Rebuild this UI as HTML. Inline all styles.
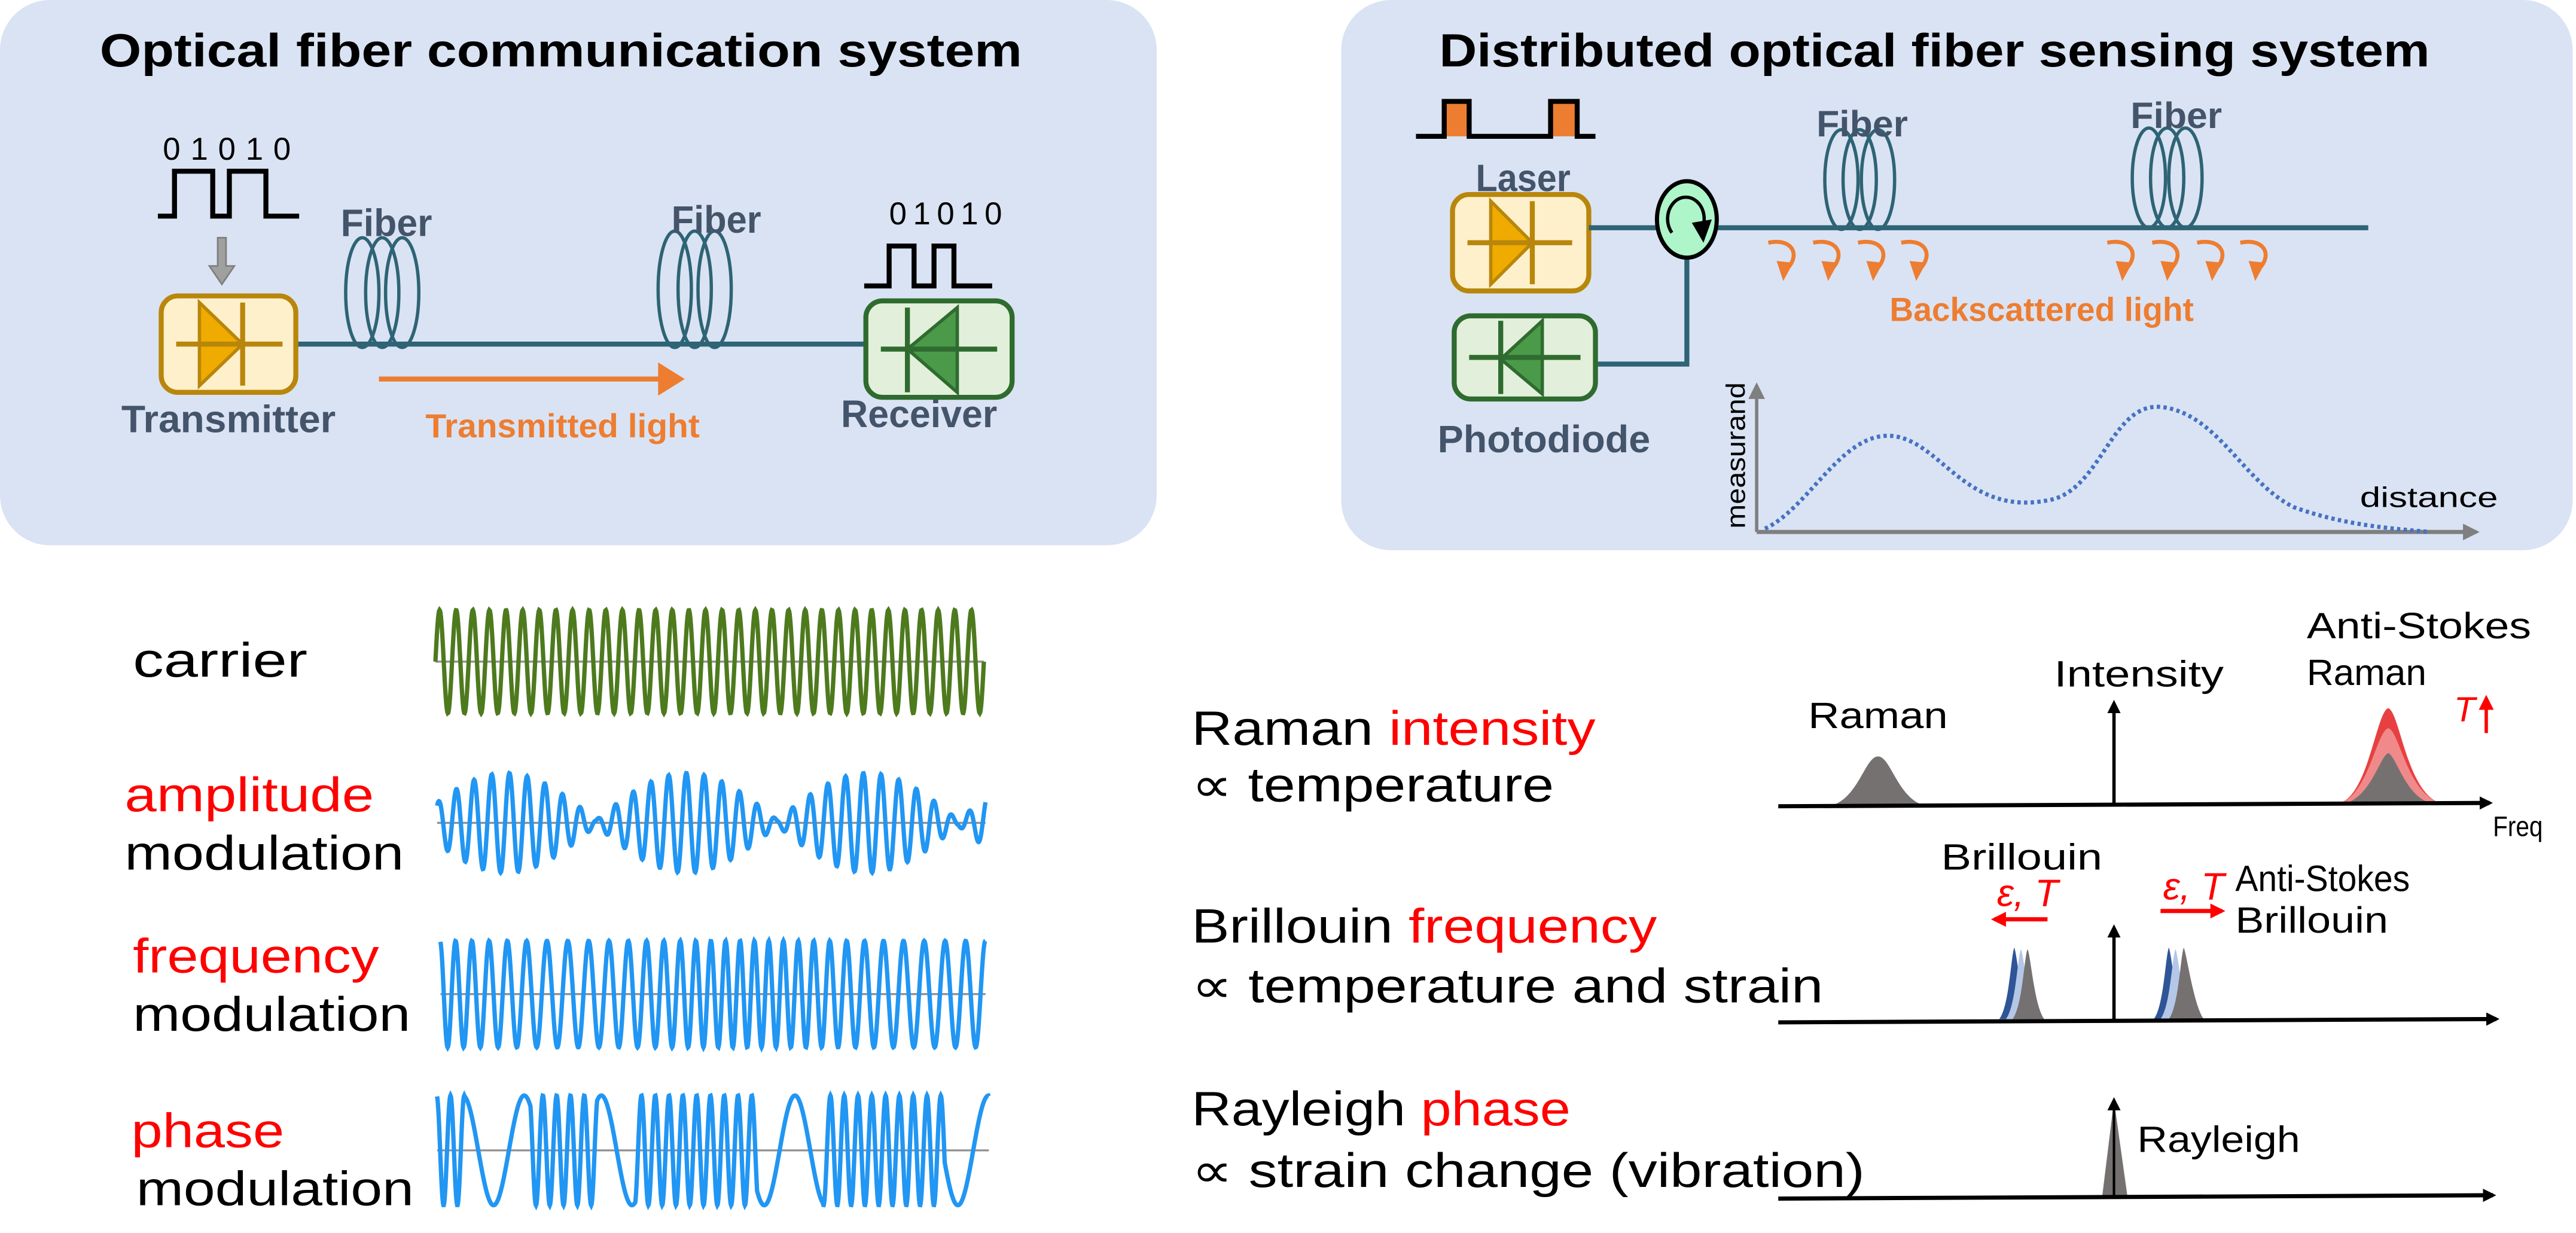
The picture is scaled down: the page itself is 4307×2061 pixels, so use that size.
<!DOCTYPE html>
<html><head><meta charset="utf-8"><style>
html,body{margin:0;padding:0;background:#fff}
svg{display:block}
text{font-family:"Liberation Sans","DejaVu Sans",sans-serif}
</style></head><body>
<svg id="s" width="4307" height="2061" viewBox="0 0 1550 741.7" xmlns="http://www.w3.org/2000/svg">
<defs>
<marker id="ab" markerWidth="8" markerHeight="8" refX="6" refY="4" orient="auto" markerUnits="userSpaceOnUse"><path d="M0,0 L8,4 L0,8 Z" fill="#000"/></marker>
<marker id="ag" markerWidth="10" markerHeight="10" refX="8" refY="5" orient="auto" markerUnits="userSpaceOnUse"><path d="M0,0 L10,5 L0,10 Z" fill="#7f7f7f"/></marker>
<marker id="ar" markerWidth="9" markerHeight="9" refX="7" refY="4.5" orient="auto" markerUnits="userSpaceOnUse"><path d="M0,0 L9,4.5 L0,9 Z" fill="#f00"/></marker>
</defs>
<!-- Left panel -->
<rect x="0" y="0" width="696" height="328" rx="30" fill="#dae3f3"/>
<text x="60" y="40" font-size="28" font-weight="bold" textLength="555" lengthAdjust="spacingAndGlyphs">Optical fiber communication system</text>
<text x="98" y="96" font-size="19" textLength="77" lengthAdjust="spacing">01010</text>
<path d="M95,130 H105 V103 H128 V130 H138 V103 H160 V130 H180" fill="none" stroke="#000" stroke-width="3"/>
<path d="M131,143 H136 V160 H141 L133.5,171 L126,160 H131 Z" fill="#a0a0a0" stroke="#7f7f7f" stroke-width="1"/>
<line x1="178" y1="207" x2="522" y2="207" stroke="#2e6475" stroke-width="3"/>
<g fill="none" stroke="#2e6475" stroke-width="2">
<ellipse cx="218" cy="176" rx="10" ry="33"/><ellipse cx="230" cy="176" rx="10" ry="33"/><ellipse cx="242" cy="176" rx="10" ry="33"/>
<ellipse cx="406" cy="174" rx="10" ry="35"/><ellipse cx="418" cy="174" rx="10" ry="35"/><ellipse cx="430" cy="174" rx="10" ry="35"/>
</g>
<text x="205" y="142" font-size="23" font-weight="bold" fill="#44546a" textLength="55" lengthAdjust="spacingAndGlyphs">Fiber</text>
<text x="404" y="140" font-size="23" font-weight="bold" fill="#44546a" textLength="54" lengthAdjust="spacingAndGlyphs">Fiber</text>
<rect x="97" y="178" width="81" height="58" rx="10" fill="#fff0cc" stroke="#b8860b" stroke-width="3"/>
<path d="M120,182 L146,207 L120,232 Z" fill="#f0ab00" stroke="#b8860b" stroke-width="2"/>
<line x1="146" y1="182" x2="146" y2="232" stroke="#b8860b" stroke-width="3"/>
<line x1="106" y1="207" x2="170" y2="207" stroke="#b8860b" stroke-width="3"/>
<rect x="521" y="181" width="88" height="58" rx="10" fill="#e2efda" stroke="#2f6b2f" stroke-width="3"/>
<path d="M576,185 L546,210 L576,236 Z" fill="#4a9a4a" stroke="#2f6b2f" stroke-width="2"/>
<line x1="546" y1="185" x2="546" y2="236" stroke="#2f6b2f" stroke-width="3"/>
<line x1="530" y1="210" x2="600" y2="210" stroke="#2f6b2f" stroke-width="3"/>
<text x="535" y="135" font-size="19" textLength="68" lengthAdjust="spacing">01010</text>
<path d="M520,172 H535 V148 H550 V172 H562 V148 H574 V172 H597" fill="none" stroke="#000" stroke-width="3"/>
<line x1="228" y1="228" x2="398" y2="228" stroke="#ed7d31" stroke-width="3"/>
<path d="M396,218 L412,228 L396,238 Z" fill="#ed7d31"/>
<text x="73" y="260" font-size="23" font-weight="bold" fill="#44546a" textLength="129" lengthAdjust="spacingAndGlyphs">Transmitter</text>
<text x="256" y="263" font-size="20" font-weight="bold" fill="#ed7d31" textLength="165" lengthAdjust="spacingAndGlyphs">Transmitted light</text>
<text x="506" y="257" font-size="23" font-weight="bold" fill="#44546a" textLength="94" lengthAdjust="spacingAndGlyphs">Receiver</text>

<!-- Right panel -->
<rect x="807" y="0" width="741" height="331" rx="30" fill="#dae3f3"/>
<text x="866" y="40" font-size="28" font-weight="bold" textLength="596" lengthAdjust="spacingAndGlyphs">Distributed optical fiber sensing system</text>
<rect x="869" y="62" width="15" height="20" fill="#ed7d31"/><rect x="933" y="62" width="16" height="20" fill="#ed7d31"/>
<path d="M852,82 H869 V61 H884 V82 H933 V61 H949 V82 H960" fill="none" stroke="#000" stroke-width="3"/>
<text x="888" y="115" font-size="23" font-weight="bold" fill="#44546a" textLength="57" lengthAdjust="spacingAndGlyphs">Laser</text>
<rect x="874" y="117" width="82" height="58" rx="10" fill="#fff0cc" stroke="#b8860b" stroke-width="3"/>
<path d="M897,121 L922,146 L897,171 Z" fill="#f0ab00" stroke="#b8860b" stroke-width="2"/>
<line x1="922" y1="121" x2="922" y2="171" stroke="#b8860b" stroke-width="3"/>
<line x1="883" y1="146" x2="946" y2="146" stroke="#b8860b" stroke-width="3"/>
<line x1="956" y1="137" x2="1425" y2="137" stroke="#2e6475" stroke-width="3"/>
<polyline points="1015,155 1015,219 960,219" fill="none" stroke="#2e6475" stroke-width="3"/>
<ellipse cx="1015" cy="132" rx="18" ry="23" fill="#aef5c9" stroke="#000" stroke-width="2.5"/>
<path d="M1006,140 A11,13 0 1 1 1024,138" fill="none" stroke="#000" stroke-width="2"/>
<path d="M1018,134 L1030,132 L1025,146 Z" fill="#000"/>
<rect x="875" y="190" width="85" height="50" rx="10" fill="#e2efda" stroke="#2f6b2f" stroke-width="3"/>
<path d="M928,193 L903,216 L928,237 Z" fill="#4a9a4a" stroke="#2f6b2f" stroke-width="2"/>
<line x1="903" y1="193" x2="903" y2="237" stroke="#2f6b2f" stroke-width="3"/>
<line x1="884" y1="215" x2="951" y2="215" stroke="#2f6b2f" stroke-width="3"/>
<text x="865" y="272" font-size="23" font-weight="bold" fill="#44546a" textLength="128" lengthAdjust="spacingAndGlyphs">Photodiode</text>
<g fill="none" stroke="#2e6475" stroke-width="2">
<ellipse cx="1108" cy="108" rx="10" ry="30"/><ellipse cx="1119" cy="108" rx="10" ry="30"/><ellipse cx="1130" cy="108" rx="10" ry="30"/>
<ellipse cx="1293" cy="107" rx="10" ry="30"/><ellipse cx="1304" cy="107" rx="10" ry="30"/><ellipse cx="1315" cy="107" rx="10" ry="30"/>
</g>
<text x="1093" y="82" font-size="22" font-weight="bold" fill="#44546a" textLength="55" lengthAdjust="spacingAndGlyphs">Fiber</text>
<text x="1282" y="77" font-size="22" font-weight="bold" fill="#44546a" textLength="55" lengthAdjust="spacingAndGlyphs">Fiber</text>
<g id="curl" fill="none" stroke="#ed7d31" stroke-width="2.4">
</g>
<text x="1137" y="193" font-size="20" font-weight="bold" fill="#ed7d31" textLength="183" lengthAdjust="spacingAndGlyphs">Backscattered light</text>
<line x1="1057" y1="320" x2="1057" y2="232" stroke="#7f7f7f" stroke-width="2" marker-end="url(#ag)"/>
<line x1="1057" y1="320" x2="1490" y2="320" stroke="#7f7f7f" stroke-width="2.5" marker-end="url(#ag)"/>
<text transform="translate(1050,274) rotate(-90)" font-size="16" text-anchor="middle" textLength="88" lengthAdjust="spacingAndGlyphs">measurand</text>
<text x="1420" y="305" font-size="17" textLength="83" lengthAdjust="spacingAndGlyphs">distance</text>
<path d="M1062,318 C1090,305 1110,255 1143,263 C1170,270 1185,310 1232,301 C1265,296 1270,240 1302,245 C1335,250 1350,290 1380,305 C1410,316 1440,318 1462,320" fill="none" stroke="#4472c4" stroke-width="2.5" stroke-dasharray="2,2"/>

<!-- Bottom left -->
<g font-size="29">
<text x="80" y="407" textLength="105" lengthAdjust="spacingAndGlyphs">carrier</text>
<text x="75" y="488" fill="#f00" textLength="150" lengthAdjust="spacingAndGlyphs">amplitude</text>
<text x="75" y="523" textLength="168" lengthAdjust="spacingAndGlyphs">modulation</text>
<text x="80" y="585" fill="#f00" textLength="148" lengthAdjust="spacingAndGlyphs">frequency</text>
<text x="80" y="620" textLength="167" lengthAdjust="spacingAndGlyphs">modulation</text>
<text x="79" y="690" fill="#f00" textLength="92" lengthAdjust="spacingAndGlyphs">phase</text>
<text x="82" y="725" textLength="167" lengthAdjust="spacingAndGlyphs">modulation</text>
</g>
<g stroke="#909090" stroke-width="1.2">
<line x1="262" y1="398" x2="592" y2="398"/><line x1="263" y1="495" x2="593" y2="495"/>
<line x1="265" y1="598" x2="593" y2="598"/><line x1="263" y1="692" x2="595" y2="692"/>
</g>
<g id="waves" fill="none" stroke-width="2.6"></g>

<!-- Bottom right -->
<g font-size="29">
<text x="717" y="448" textLength="243" lengthAdjust="spacingAndGlyphs">Raman <tspan fill="#f00">intensity</tspan></text>
<text x="717" y="482" textLength="218" lengthAdjust="spacingAndGlyphs">∝ temperature</text>
<text x="717" y="567" textLength="280" lengthAdjust="spacingAndGlyphs">Brillouin <tspan fill="#f00">frequency</tspan></text>
<text x="717" y="603" textLength="380" lengthAdjust="spacingAndGlyphs">∝ temperature and strain</text>
<text x="717" y="677" textLength="228" lengthAdjust="spacingAndGlyphs">Rayleigh <tspan fill="#f00">phase</tspan></text>
<text x="717" y="714" textLength="405" lengthAdjust="spacingAndGlyphs">∝ strain change (vibration)</text>
</g>
<!-- Raman axis -->
<path d="M1100,485 C1118,482 1122,455 1130,455 C1138,455 1142,482 1160,485 Z" fill="#767171"/>
<path d="M1408,483 C1425,478 1430,428 1437,426 C1444,428 1448,476 1468,483 Z" fill="#e84040"/>
<path d="M1408,483 C1425,478 1430,440 1437,438 C1444,440 1448,476 1468,483 Z" fill="#f08a8a"/>
<path d="M1412,483 C1427,478 1432,455 1437,453 C1442,455 1447,478 1462,483 Z" fill="#767171"/>
<line x1="1070" y1="485" x2="1498" y2="483" stroke="#000" stroke-width="2.5" marker-end="url(#ab)"/>
<line x1="1272" y1="485" x2="1272" y2="423" stroke="#000" stroke-width="2" marker-end="url(#ab)"/>
<text x="1088" y="438" font-size="22" textLength="84" lengthAdjust="spacingAndGlyphs">Raman</text>
<text x="1236" y="413" font-size="22" textLength="102" lengthAdjust="spacingAndGlyphs">Intensity</text>
<text x="1388" y="384" font-size="22" textLength="135" lengthAdjust="spacingAndGlyphs">Anti-Stokes</text>
<text x="1388" y="412" font-size="22" textLength="72" lengthAdjust="spacingAndGlyphs">Raman</text>
<text x="1483" y="434" font-size="21" fill="#f00" font-style="italic" font-family="Liberation Serif,serif" text-anchor="middle">T</text>
<line x1="1496" y1="441" x2="1496" y2="420" stroke="#f00" stroke-width="2" marker-end="url(#ar)"/>
<text x="1500" y="503" font-size="17" textLength="30" lengthAdjust="spacingAndGlyphs">Freq</text>
<!-- Brillouin -->
<path d="M1203,613 C1209,605 1210,575 1212,570 C1214,575 1216,605 1222,613 Z" fill="#2f5597"/>
<path d="M1207,613 C1213,605 1214,575 1216,571 C1218,575 1220,605 1226,613 Z" fill="#b4c7e7"/>
<path d="M1211,613 C1217,605 1218,575 1220,571 C1222,575 1224,605 1230,613 Z" fill="#767171"/>
<path d="M1296,613 C1302,605 1303,575 1305,570 C1307,575 1309,605 1315,613 Z" fill="#2f5597"/>
<path d="M1300,613 C1306,605 1307,575 1309,571 C1311,575 1313,605 1319,613 Z" fill="#b4c7e7"/>
<path d="M1305,613 C1311,605 1312,575 1314,570 C1316,575 1320,605 1326,613 Z" fill="#767171"/>
<line x1="1070" y1="615" x2="1502" y2="613" stroke="#000" stroke-width="2.5" marker-end="url(#ab)"/>
<line x1="1272" y1="613" x2="1272" y2="558" stroke="#000" stroke-width="2" marker-end="url(#ab)"/>
<text x="1168" y="523" font-size="22" textLength="97" lengthAdjust="spacingAndGlyphs">Brillouin</text>
<text x="1220" y="545" font-size="23" fill="#f00" font-style="italic" font-family="Liberation Serif,serif" text-anchor="middle">ε, T</text>
<line x1="1232" y1="553" x2="1200" y2="553" stroke="#f00" stroke-width="2.5" marker-end="url(#ar)"/>
<text x="1320" y="541" font-size="23" fill="#f00" font-style="italic" font-family="Liberation Serif,serif" text-anchor="middle">ε, T</text>
<line x1="1300" y1="548" x2="1337" y2="548" stroke="#f00" stroke-width="2.5" marker-end="url(#ar)"/>
<text x="1345" y="536" font-size="22" textLength="105" lengthAdjust="spacingAndGlyphs">Anti-Stokes</text>
<text x="1345" y="561" font-size="22" textLength="92" lengthAdjust="spacingAndGlyphs">Brillouin</text>
<!-- Rayleigh -->
<path d="M1265,719 L1272,662 L1280,719 Z" fill="#767171"/>
<line x1="1070" y1="721" x2="1500" y2="719" stroke="#000" stroke-width="2.5" marker-end="url(#ab)"/>
<line x1="1272" y1="719" x2="1272" y2="662" stroke="#000" stroke-width="1.5" marker-end="url(#ab)"/>
<text x="1286" y="693" font-size="22" textLength="98" lengthAdjust="spacingAndGlyphs">Rayleigh</text>
</svg>
<script>
var NS="http://www.w3.org/2000/svg";
function mk(d,c,parent,w){var p=document.createElementNS(NS,"path");p.setAttribute("d",d);p.setAttribute("stroke",c);if(w)p.setAttribute("stroke-width",w);document.getElementById(parent).appendChild(p);}
function wave(x0,x1,cy,amp,fn){var d="",N=1200;for(var i=0;i<=N;i++){var t=i/N;var r=fn(t);var x=x0+(x1-x0)*t;var y=cy-amp*r;d+=(i?"L":"M")+x.toFixed(2)+","+y.toFixed(2);}return d;}
mk(wave(262,592,398,31,function(t){return Math.sin(2*Math.PI*33*t);}),"#4e7a1e","waves");
mk(wave(263,593,495,30,function(t){var e=Math.abs(Math.sin(Math.PI*(t+0.04)/0.33));return (0.06+0.94*e)*Math.sin(2*Math.PI*31*t+1);}),"#2196f3","waves");
(function(){var N=1200,ph=0,d="";for(var i=0;i<=N;i++){var t=i/N;var f=32+6*Math.sin(2*Math.PI*1.5*t+2.5);ph+=2*Math.PI*f/N;var x=265+328*t,y=598-32*Math.cos(ph);d+=(i?"L":"M")+x.toFixed(2)+","+y.toFixed(2);}mk(d,"#2196f3","waves");})();
(function(){var N=1400,ph=0,d="";var slow=[[0.05,0.17],[0.29,0.36],[0.58,0.7],[0.92,1.0]];for(var i=0;i<=N;i++){var t=i/N;var f=40;for(var k=0;k<slow.length;k++){if(t>slow[k][0]&&t<slow[k][1])f=9;}ph+=2*Math.PI*f/N;var x=263+332*t,y=692-33*Math.cos(ph);d+=(i?"L":"M")+x.toFixed(2)+","+y.toFixed(2);}mk(d,"#2196f3","waves");})();
var cx=[1064,1091,1118,1144,1268,1295,1322,1348];
cx.forEach(function(x){mk("M"+x+",146 C"+(x+14)+",143 "+(x+20)+",153 "+(x+11)+",162","#ed7d31","curl");var p=document.createElementNS(NS,"path");p.setAttribute("d","M"+(x+5)+",157 L"+(x+9)+",169 L"+(x+15)+",158 Z");p.setAttribute("fill","#ed7d31");p.setAttribute("stroke","none");document.getElementById("curl").appendChild(p);});
</script>
</body></html>
